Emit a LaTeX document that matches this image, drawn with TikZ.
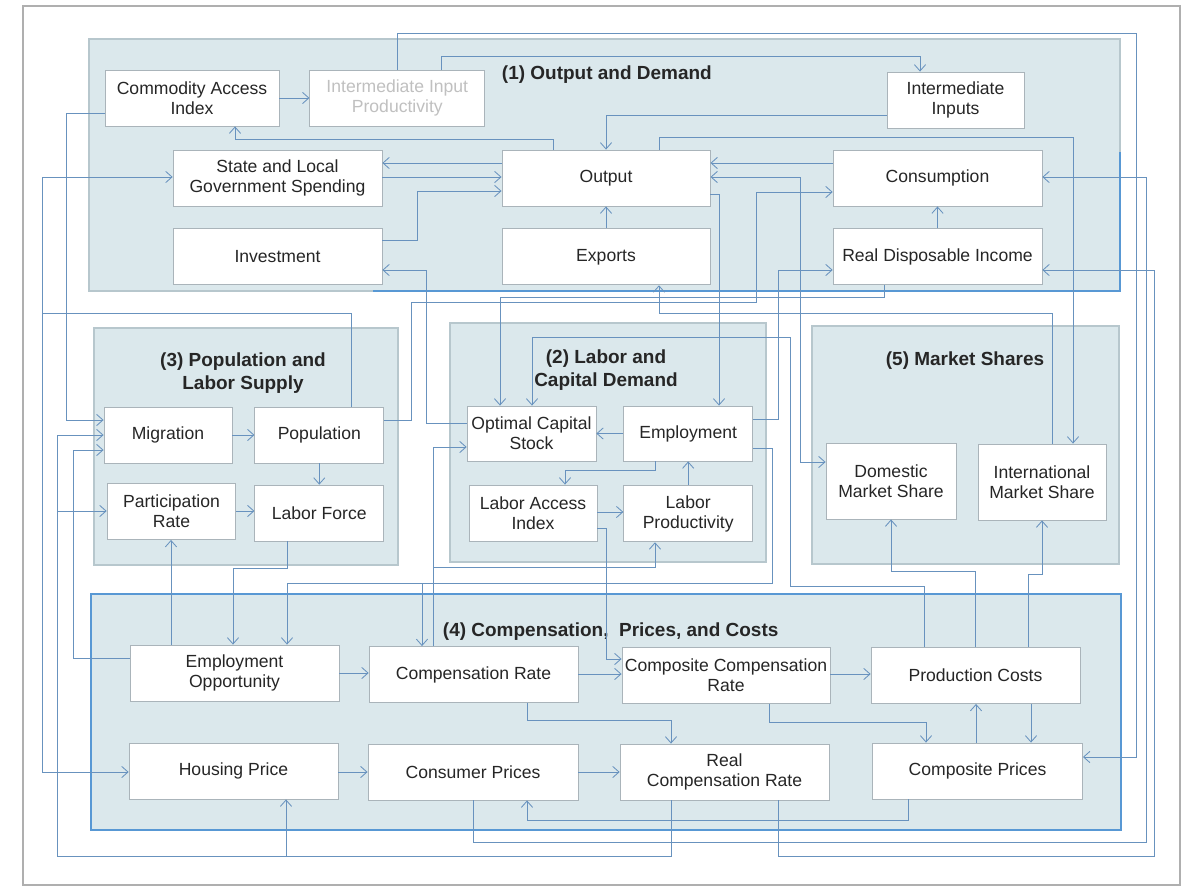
\documentclass[tikz,border=0pt]{standalone}
\usepackage{fontspec}
\setmainfont{Liberation Sans}
\usetikzlibrary{positioning}
\usetikzlibrary{backgrounds}
\usetikzlibrary{arrows.meta}

\definecolor{grpfill}{RGB}{219,232,236}
\definecolor{grpline}{RGB}{183,199,205}
\definecolor{boxline}{RGB}{170,180,186}
\definecolor{lnkcol}{RGB}{104,146,190}
\definecolor{hilite}{RGB}{88,152,212}
\definecolor{txtcol}{RGB}{38,38,38}
\definecolor{fadetxt}{RGB}{192,192,192}
\definecolor{framecol}{RGB}{175,175,175}

\tikzset{
  blk/.style={fill=white, draw=boxline, rectangle, line width=0.6pt, minimum height=1.4cm,
    align=center, text=txtcol, inner sep=1pt, font=\fontsize{12.5}{14.2}\selectfont},
  grp/.style={fill=grpfill, draw=grpline, line width=0.8pt},
  grptitle/.style={align=center, text=black!85, font=\fontsize{13.5}{16}\selectfont\bfseries},
  lnk/.style={draw=lnkcol, line width=0.6pt, -{Straight Barb[length=4.5pt,width=8pt]}},
  lnkboth/.style={draw=lnkcol, line width=0.6pt, {Straight Barb[length=4.5pt,width=8pt]}-{Straight Barb[length=4.5pt,width=8pt]}},
}

\begin{document}
\begin{tikzpicture}[x=0.025cm, y=-0.025cm]
		\useasboundingbox (0,0) rectangle (1188,886);

		% (1) output and demand
		\node[blk, minimum width=4.35cm] (cai) at (192,98) {Commodity Access\\Index};
		\node[blk, minimum width=4.37cm, text=fadetxt, right=0.75cm of cai] (iip) {Intermediate Input\\Productivity};
		\node[blk, minimum width=3.42cm] (ii) at (955.5,100) {Intermediate\\Inputs};
		\node[blk, minimum width=5.22cm] (slgs) at (277.5,178) {State and Local\\Government Spending};
		\node[blk, minimum width=5.2cm] (outp) at (606,178) {Output};
		\node[blk, minimum width=5.22cm] (cons) at (937.5,178) {Consumption};
		\node[blk, minimum width=5.22cm, below=0.55cm of slgs] (inv) {Investment};
		\node[blk, minimum width=5.2cm, below=0.55cm of outp] (expo) {Exports};
		\node[blk, minimum width=5.22cm, below=0.55cm of cons] (rdi) {Real Disposable Income};

		% (3) population and labor supply
		\node[blk, minimum width=3.2cm] (mig) at (168,435) {Migration};
		\node[blk, minimum width=3.22cm, right=0.55cm of mig] (pop) {Population};
		\node[blk, minimum width=3.22cm, below=0.53cm of pop] (lf) {Labor Force};
		\node[blk, minimum width=3.22cm] (part) at (171.5,511.5) {Participation\\Rate};

		% (2) labor and capital demand
		\node[blk, minimum width=3.22cm, minimum height=1.375cm] (ocs) at (531.5,433.5) {Optimal Capital\\Stock};
		\node[blk, minimum width=3.22cm, minimum height=1.375cm, right=0.675cm of ocs] (emp) {Employment};
		\node[blk, minimum width=3.2cm] (lai) at (533,513) {Labor Access\\Index};
		\node[blk, minimum width=3.22cm, below=0.6cm of emp] (lp) {Labor\\Productivity};

		% (5) market shares
		\node[blk, minimum width=3.25cm, minimum height=1.9cm] (dms) at (891,481) {Domestic\\Market Share};
		\node[blk, minimum width=3.2cm, minimum height=1.9cm] (ims) at (1042,482) {International\\Market Share};

		% (4) compensation, prices, and costs
		\node[blk, minimum width=5.22cm] (eo) at (234.5,673) {Employment\\Opportunity};
		\node[blk, minimum width=5.22cm] (cr) at (473.5,674.5) {Compensation Rate};
		\node[blk, minimum width=5.2cm] (ccr) at (726,675.5) {Composite Compensation\\Rate};
		\node[blk, minimum width=5.22cm] (pc) at (975.5,675.5) {Production Costs};
		\node[blk, minimum width=5.22cm] (hp) at (233.5,771) {Housing Price};
		\node[blk, minimum width=5.25cm] (cp) at (473,772) {Consumer Prices};
		\node[blk, minimum width=5.22cm] (rcr) at (724.5,772) {Real\\Compensation Rate};
		\node[blk, minimum width=5.25cm] (cmp) at (977.5,771) {Composite Prices};

		% group titles
		\node[grptitle, anchor=west] (t1) at (497,75) {(1) Output and Demand};
		\node[grptitle] (t3) at (243,373) {(3) Population and\\Labor Supply};
		\node[grptitle] (t2) at (606,370) {(2) Labor and\\Capital Demand};
		\node[grptitle] (t5) at (965,361) {(5) Market Shares};
		\node[grptitle, anchor=west] (t4) at (438,632) {(4) Compensation,\ \ Prices, and Costs};

		\begin{scope}[on background layer]
			\fill[white] (0,0) rectangle (1188,886);
			\draw[framecol, line width=1pt] (23,6) rectangle (1180,885);
			\draw[grp] (89,39) rectangle (1120,291);
			\draw[grp] (94,328) rectangle (398,565);
			\draw[grp] (450,323) rectangle (766,562);
			\draw[grp] (812,326) rectangle (1119,564);
			\draw[grp, draw=hilite, line width=1.6pt] (91,594) rectangle (1121,830);
		\end{scope}
		\draw[hilite, line width=1.2pt] (373,291) -- (1120,291) -- (1120,152);

		% links inside (1)
		\draw[lnk] (cai.east) -- (iip.west);
		\draw[lnk] (outp.north -| 553,0) |- (235,139) -- (cai.south -| 235,0);
		\draw[lnk] (ii.west |- 0,115) -| (outp.north);
		\draw[lnk] (iip.north -| 441,0) |- (920,56) -- (ii.north -| 920,0);
		\draw[lnk] (iip.north) |- (1136,33) |- (cmp.east |- 0,757);
		\draw[lnk] (outp.west |- 0,163) -- (slgs.east |- 0,163);
		\draw[lnk] (slgs.east |- 0,177) -- (outp.west |- 0,177);
		\draw[lnk] (inv.east |- 0,240) -| (417,191) -- (outp.west |- 0,191);
		\draw[lnk] (cons.west |- 0,163) -- (outp.east |- 0,163);
		\draw[lnk] (rdi.north) -- (cons.south);
		\draw[lnk] (expo.north) -- (outp.south);
		\draw[lnkboth] (dms.west |- 0,462) -| (800,177) -- (outp.east |- 0,177);
		\draw[lnk] (outp.east |- 0,194) -| (emp.north -| 719,0);
		\draw[lnk] (outp.north -| 659,0) |- (1073,137) -- (ims.north -| 1073,0);
		\draw[lnk] (ims.north -| 1052,0) |- (659,313) -- (expo.south -| 659,0);

		% links around (2) and (3)
		\draw[lnk] (ocs.west |- 0,423) -| (426,270) -- (inv.east |- 0,270);
		\draw[lnk] (emp.east |- 0,419) -| (778,270) -- (rdi.west |- 0,270);
		\draw[lnk] (pop.east |- 0,420) -| (411,302) -| (756,192) -- (cons.west |- 0,192);
		\draw[lnk] (rdi.south -| 884,0) |- (500,297) -- (ocs.north -| 500,0);
		\draw[lnk] (emp.west) -- (ocs.east);
		\draw[lnk] (emp.south -| 655,0) |- (565,470) -- (lai.north -| 565,0);
		\draw[lnk] (lp.north) -- (emp.south);
		\draw[lnk] (lai.east |- 0,512) -- (lp.west |- 0,512);
		\draw[lnk] (mig.east) -- (pop.west);
		\draw[lnk] (pop.south) -- (lf.north);
		\draw[lnk] (part.east |- 0,511) -- (lf.west |- 0,511);
		\draw[lnk] (cai.west |- 0,113) -| (66,420) -- (mig.west |- 0,420);
		\draw[lnk] (pop.north -| 351,0) |- (42,313) |- (slgs.west |- 0,177);
		\draw[lnk] (pop.north -| 351,0) |- (42,313) |- (hp.west |- 0,772);

		% links from (4) upwards
		\draw[lnk] (pc.north -| 924,0) |- (790,586) |- (532,337) -- (ocs.north -| 532,0);
		\draw[lnk] (pc.north -| 975,0) |- (891,571) -- (dms.south -| 891,0);
		\draw[lnk] (pc.north -| 1028,0) |- (1042,574) -- (ims.south -| 1042,0);
		\draw[lnk] (cr.north -| 433,0) |- (ocs.west |- 0,447);
		\draw[lnk] (cr.north -| 433,0) |- (655,567) -- (lp.south -| 655,0);
		\draw[lnk] (emp.east |- 0,448) -| (772,583) -| (eo.north -| 287,0);
		\draw[lnk] (emp.east |- 0,448) -| (772,583) -| (cr.north -| 422,0);
		\draw[lnk] (lf.south -| 287,0) |- (233,568) -- (eo.north -| 233,0);
		\draw[lnk] (eo.north -| 171,0) -- (part.south -| 171,0);
		\draw[lnk] (eo.west |- 0,658) -| (73,450) -- (mig.west |- 0,450);
		\draw[lnk] (lai.east |- 0,528) -| (606,659) -- (ccr.west |- 0,659);

		% links inside (4)
		\draw[lnk] (eo.east |- 0,673) -- (cr.west |- 0,673);
		\draw[lnk] (cr.east |- 0,674) -- (ccr.west |- 0,674);
		\draw[lnk] (ccr.east |- 0,674) -- (pc.west |- 0,674);
		\draw[lnk] (hp.east |- 0,772) -- (cp.west |- 0,772);
		\draw[lnk] (cp.east |- 0,772) -- (rcr.west |- 0,772);
		\draw[lnk] (cr.south -| 527,0) |- (671,720) -- (rcr.north -| 671,0);
		\draw[lnk] (ccr.south -| 769,0) |- (926,722) -- (cmp.north -| 926,0);
		\draw[lnk] (cmp.north -| 976,0) -- (pc.south -| 976,0);
		\draw[lnk] (pc.south -| 1031,0) -- (cmp.north -| 1031,0);
		\draw[lnk] (cmp.south -| 908,0) |- (527,820) -- (cp.south -| 527,0);

		% long links below (4)
		\draw[lnk] (rcr.south -| 671,0) |- (286,856) -- (hp.south -| 286,0);
		\draw[lnk] (rcr.south -| 671,0) |- (57,856) |- (mig.west |- 0,435);
		\draw[lnk] (rcr.south -| 671,0) |- (57,856) |- (part.west |- 0,511);
		\draw[lnk] (rcr.south -| 778,0) |- (1154,856) |- (rdi.east |- 0,270);
		\draw[lnk] (cp.south -| 473,0) |- (1146,842) |- (cons.east |- 0,177);
	\end{tikzpicture}
\end{document}
